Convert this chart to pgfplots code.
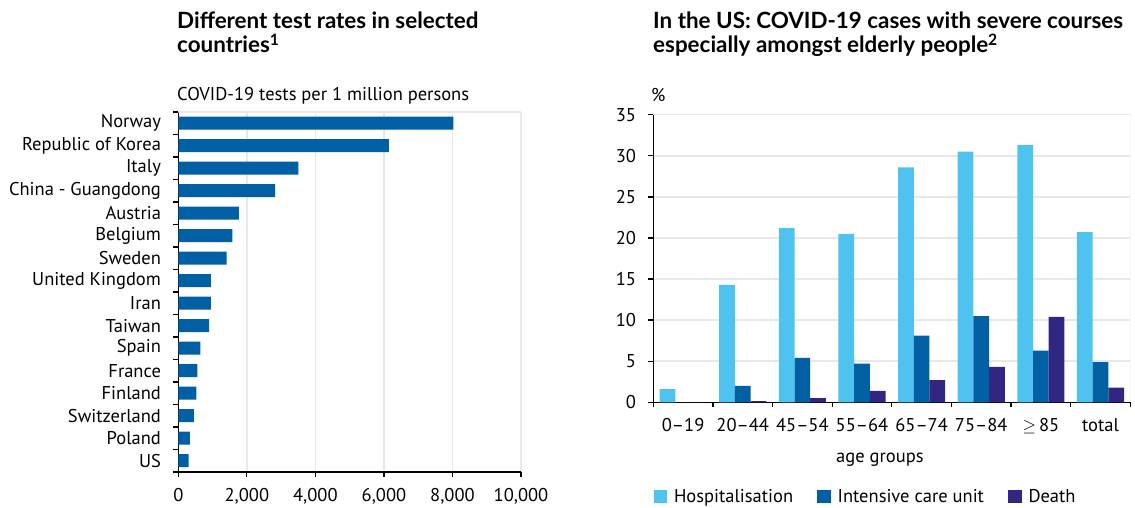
\documentclass[border=0pt]{standalone}
\usepackage{fontspec}
\setmainfont{PT Sans}
\newfontfamily\titlefont{Lato}
\usepackage{pgfplots}
\pgfplotsset{compat=1.18}
\definecolor{hosp}{HTML}{4EC3F0}
\definecolor{icu}{HTML}{0060A3}
\definecolor{death}{HTML}{312783}
\definecolor{gridc}{HTML}{E8E8E8}
\begin{document}
\fontsize{18.5pt}{22pt}\selectfont
\begin{tikzpicture}[x=1pt,y=1pt]
\useasboundingbox (0,0) rectangle (1135,508);
\tikzset{ttl/.style={anchor=base west, inner sep=0, font=\titlefont\fontsize{22.4pt}{24pt}\selectfont\bfseries}}
\node[ttl] at (177,479) {Different test rates in selected};
\node[ttl] at (177,455) {countries\textsuperscript{1}};
\node[anchor=base west, inner sep=0] at (177,407) {COVID-19 tests per 1 million persons};
\node[ttl] at (653,479) {In the US: COVID-19 cases with severe courses};
\node[ttl] at (653,455) {especially amongst elderly people\textsuperscript{2}};
\node[anchor=base west, inner sep=0] at (651,406) {\%};

\begin{axis}[
  at={(178.3pt,36pt)}, anchor=south west, scale only axis,
  width=342.7pt, height=360pt,
  xbar, bar width=13pt,
  xmin=0, xmax=10000, ymin=-0.5, ymax=15.5,
  axis lines*=left, axis line style={black, line width=1.3pt},
  tick style={black, line width=1.3pt}, tick align=outside,
  major tick length=5pt, minor tick length=5pt,
  xtick={0,2000,...,10000}, xmajorgrids,
  grid style={gridc, line width=1.5pt},
  ytick={0,...,15},
  yticklabels={US,Poland,Switzerland,Finland,France,Spain,Taiwan,Iran,United Kingdom,Sweden,Belgium,Austria,China - Guangdong,Italy,Republic of Korea,Norway},
  minor ytick={-0.5,0.5,...,15.5},
  every major y tick/.style={draw=none},
  scaled x ticks=false,
  /pgf/number format/assume math mode=true,
  /pgf/number format/1000 sep={,},
  xticklabel style={font=\fontsize{18.5pt}{22pt}\selectfont, yshift=-5pt},
  yticklabel style={font=\fontsize{18.5pt}{22pt}\selectfont, xshift=-6pt},
]
\draw[gridc, line width=1.5pt] (rel axis cs:0,1) -- (rel axis cs:1,1);
\addplot[fill=icu, draw=none] coordinates {
(303,0) (341,1) (458,2) (525,3) (555,4) (642,5) (897,6) (954,7) (954,8)
(1412,9) (1576,10) (1771,11) (2822,12) (3502,13) (6148,14) (8024,15)};
\end{axis}

\begin{axis}[
  at={(653.3pt,105.7pt)}, anchor=south west, scale only axis,
  width=477pt, height=287.6pt,
  ybar=0pt, bar width=15.7pt,
  xmin=-0.5, xmax=7.5, ymin=0, ymax=35,
  axis lines*=left, axis line style={black, line width=1.3pt},
  tick style={black, line width=1.3pt}, tick align=outside,
  major tick length=5pt, minor tick length=5pt,
  ytick={0,5,...,35}, ymajorgrids,
  grid style={gridc, line width=1.5pt},
  xtick={0,...,7},
  xticklabels={0--19,20--44,45--54,55--64,65--74,75--84,{$\geq$\,85},total},
  minor xtick={-0.5,0.5,...,7.5},
  every major x tick/.style={draw=none},
  /pgf/number format/assume math mode=true,
  xticklabel style={font=\fontsize{18.5pt}{22pt}\selectfont, yshift=-5pt},
  yticklabel style={font=\fontsize{18.5pt}{22pt}\selectfont, xshift=-6pt},
  xlabel={age groups},
  xlabel style={at={(axis description cs:0.475,-0.2)}, anchor=center, font=\fontsize{18.5pt}{22pt}\selectfont},
  legend style={at={(axis description cs:0,-0.329)}, anchor=west, draw=none, inner xsep=0pt,
    legend columns=3, font=\fontsize{18.5pt}{22pt}\selectfont,
    /tikz/every odd column/.append style={column sep=5pt},
    /tikz/every even column/.append style={column sep=22pt}},
  legend image code/.code={\fill[#1] (0pt,-6.5pt) rectangle (13.5pt,7pt);},
]
\draw[gridc, line width=1.5pt] (rel axis cs:0,1) -- (rel axis cs:1,1) -- (rel axis cs:1,0);
\addplot[fill=hosp, draw=none] coordinates {(0,1.6) (1,14.3) (2,21.2) (3,20.5) (4,28.6) (5,30.5) (6,31.3) (7,20.7)};
\addplot[fill=icu, draw=none] coordinates {(0,0) (1,2.0) (2,5.4) (3,4.7) (4,8.1) (5,10.5) (6,6.3) (7,4.9)};
\addplot[fill=death, draw=none] coordinates {(0,0) (1,0.15) (2,0.5) (3,1.4) (4,2.7) (5,4.3) (6,10.4) (7,1.8)};
\legend{Hospitalisation, Intensive care unit, Death}
\end{axis}
\end{tikzpicture}
\end{document}
